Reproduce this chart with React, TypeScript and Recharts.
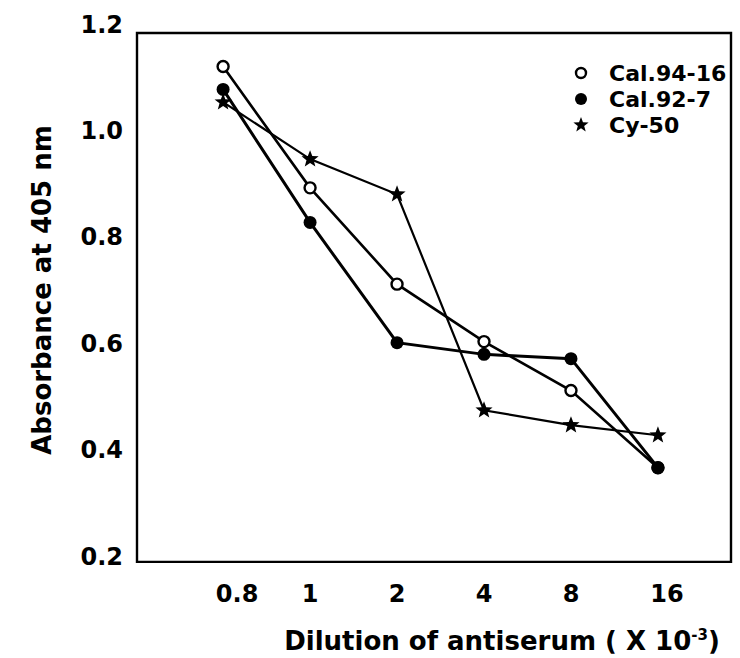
import React from "react";
import {
  LineChart,
  Line,
  XAxis,
  YAxis,
  Legend,
  Label,
  ReferenceArea,
} from "recharts";

// dilution (x 10^-3), equally spaced categories
const dilutions = ["0.8", "1", "2", "4", "8", "16"];
const yTicks = [0.2, 0.4, 0.6, 0.8, 1.0, 1.2];

// absorbance at 405 nm
const cal9416 = [1.12, 0.892, 0.711, 0.603, 0.511, 0.366];
const cal927 = [1.077, 0.827, 0.601, 0.579, 0.571, 0.366];
const cy50 = [1.053, 0.946, 0.88, 0.474, 0.446, 0.427];

const series = [
  { key: "cal9416", name: "Cal.94-16" },
  { key: "cal927", name: "Cal.92-7" },
  { key: "cy50", name: "Cy-50" },
];

const data = dilutions.map((d, i) => ({
  i,
  dilution: d,
  cal9416: cal9416[i],
  cal927: cal927[i],
  cy50: cy50[i],
}));

// the printed tick labels sit a little off the points at both ends
const tickNudge = [14, 0, 0, 0, 0, 9];

const FONT = "'DejaVu Sans', 'Liberation Sans', Arial, sans-serif";
const base = { fontFamily: FONT, fontWeight: 700, fill: "#000" };
const TICK = { ...base, fontSize: 24 };
const LEG = { ...base, fontSize: 22 };
const TITLE = { ...base, fontSize: 26 };

function starPoints(cx: number, cy: number, outer: number, inner: number) {
  const pts: string[] = [];
  for (let k = 0; k < 10; k++) {
    const r = k % 2 === 0 ? outer : inner;
    const a = -Math.PI / 2 + (k * Math.PI) / 5;
    pts.push(`${cx + r * Math.cos(a)},${cy + r * Math.sin(a)}`);
  }
  return pts.join(" ");
}

const OpenDot = ({ cx, cy, r = 5.5 }: any) => (
  <circle cx={cx} cy={cy} r={r} fill="#fff" stroke="#000" strokeWidth={2.4} />
);
const FilledDot = ({ cx, cy, r = 6.5 }: any) => <circle cx={cx} cy={cy} r={r} fill="#000" />;
const StarDot = ({ cx, cy, s = 9 }: any) => (
  <polygon points={starPoints(cx, cy, s, s * 0.42)} fill="#000" />
);

const markers: Record<string, (cx: number, cy: number) => React.ReactNode> = {
  cal9416: (cx, cy) => <OpenDot cx={cx} cy={cy} r={5} />,
  cal927: (cx, cy) => <FilledDot cx={cx} cy={cy} r={6} />,
  cy50: (cx, cy) => <StarDot cx={cx} cy={cy} s={8} />,
};

function LegendBox() {
  return (
    <svg width={175} height={80}>
      {series.map((s, k) => {
        const y = 13 + k * 26;
        return (
          <g key={s.key}>
            {markers[s.key](13, y)}
            <text x={41} y={y} dominantBaseline="central" style={LEG}>
              {s.name}
            </text>
          </g>
        );
      })}
    </svg>
  );
}

function XTick({ x, y, payload, index }: any) {
  return (
    <text x={x + (tickNudge[index] || 0)} y={y} dy="0.71em" textAnchor="middle" style={TICK}>
      {dilutions[payload.value]}
    </text>
  );
}

function XTitle() {
  return (
    <text x={502} y={650} textAnchor="middle" style={TITLE}>
      Dilution of antiserum ( X 10
      <tspan dy={-10} fontSize={15}>-3</tspan>
      <tspan dy={10}>)</tspan>
    </text>
  );
}

function YTitle() {
  return (
    <text
      x={0}
      y={0}
      transform="translate(42 290) rotate(-90)"
      textAnchor="middle"
      dominantBaseline="central"
      style={TITLE}
    >
      Absorbance at 405 nm
    </text>
  );
}

export default function App() {
  return (
    <div style={{ position: "absolute", left: 0, top: 0, width: 740, height: 658, background: "#fff" }}>
      <LineChart
        width={740}
        height={658}
        data={data}
        margin={{ top: 24, right: 9, bottom: 0, left: 0 }}
      >
        <XAxis
          type="number"
          dataKey="i"
          domain={[-0.99, 5.84]}
          ticks={[0, 1, 2, 3, 4, 5]}
          allowDataOverflow
          height={102}
          axisLine={false}
          tickLine={false}
          tickMargin={23}
          tick={<XTick />}
        >
          <Label content={<XTitle />} />
        </XAxis>
        <YAxis
          type="number"
          domain={[0.2, 1.2]}
          ticks={yTicks}
          tickFormatter={(v: number) => v.toFixed(1)}
          allowDataOverflow
          width={137}
          axisLine={false}
          tickLine={false}
          tickMargin={8}
          tick={TICK}
        >
          <Label content={<YTitle />} />
        </YAxis>
        <ReferenceArea
          x1={-0.99}
          x2={5.84}
          y1={0.189}
          y2={1.183}
          fill="none"
          stroke="#000"
          strokeWidth={2.4}
          ifOverflow="visible"
        />
        <Line
          dataKey="cal9416"
          name="Cal.94-16"
          stroke="#000"
          strokeWidth={2.6}
          isAnimationActive={false}
          dot={(p: any) => <OpenDot key={`a${p.index}`} cx={p.cx} cy={p.cy} />}
          activeDot={false}
        />
        <Line
          dataKey="cal927"
          name="Cal.92-7"
          stroke="#000"
          strokeWidth={3}
          isAnimationActive={false}
          dot={(p: any) => <FilledDot key={`b${p.index}`} cx={p.cx} cy={p.cy} />}
          activeDot={false}
        />
        <Line
          dataKey="cy50"
          name="Cy-50"
          stroke="#000"
          strokeWidth={2.2}
          isAnimationActive={false}
          dot={(p: any) => <StarDot key={`c${p.index}`} cx={p.cx} cy={p.cy} />}
          activeDot={false}
        />
        <Legend
          layout="vertical"
          align="center"
          verticalAlign="middle"
          content={<LegendBox />}
          wrapperStyle={{ left: 568, top: 60, width: 175, height: 80 }}
        />
      </LineChart>
    </div>
  );
}
